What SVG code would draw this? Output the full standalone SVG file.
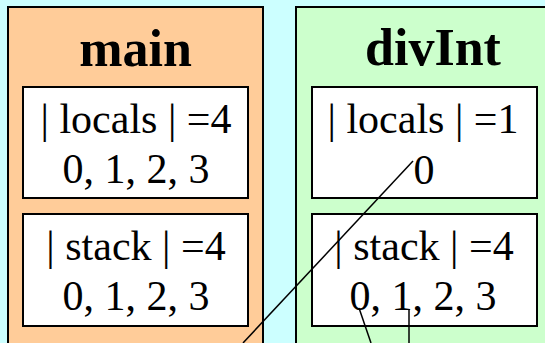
<svg xmlns="http://www.w3.org/2000/svg" width="545" height="343" viewBox="0 0 545 343">
<style>
.frame{stroke:#000;stroke-width:2}
.box{fill:#fff;stroke:#000;stroke-width:2}
.title{font-family:"Liberation Serif",serif;font-weight:bold;font-size:52px;text-anchor:middle;fill:#000}
.t{font-family:"Liberation Serif",serif;font-size:42px;text-anchor:middle;fill:#000}
.conn{stroke:#000;stroke-width:1.5;fill:none}
</style>
<rect width="545" height="343" fill="#ccffff"/>
<g id="main">
<rect class="frame" x="8" y="7" width="255" height="350" fill="#ffcc99"/>
<text class="title" x="135.5" y="66">main</text>
<g id="main-locals">
<rect class="box" x="23" y="87" width="225" height="111"/>
<text class="t" x="136" y="133">| locals | =4</text>
<text class="t" x="136" y="183">0, 1, 2, 3</text>
</g>
<g id="main-stack">
<rect class="box" x="23" y="214" width="225" height="112"/>
<text class="t" x="136" y="260">| stack | =4</text>
<text class="t" x="136" y="310">0, 1, 2, 3</text>
</g>
</g>
<g id="divInt">
<rect class="frame" x="296" y="7" width="265" height="350" fill="#ccffcc"/>
<text class="title" x="433" y="65">divInt</text>
<g id="divInt-locals">
<rect class="box" x="312" y="87" width="225" height="111"/>
<text class="t" x="423" y="133">| locals | =1</text>
<text class="t" x="424" y="184">0</text>
</g>
<g id="divInt-stack">
<rect class="box" x="312" y="214" width="225" height="112"/>
<text class="t" x="424" y="260">| stack | =4</text>
<text class="t" x="423" y="310">0, 1, 2, 3</text>
</g>
</g>
<g id="connectors">
<line class="conn" x1="243" y1="343" x2="413" y2="161"/>
<line class="conn" x1="359" y1="308" x2="371" y2="343"/>
<line class="conn" x1="409" y1="309" x2="409" y2="343"/>
</g>
</svg>
